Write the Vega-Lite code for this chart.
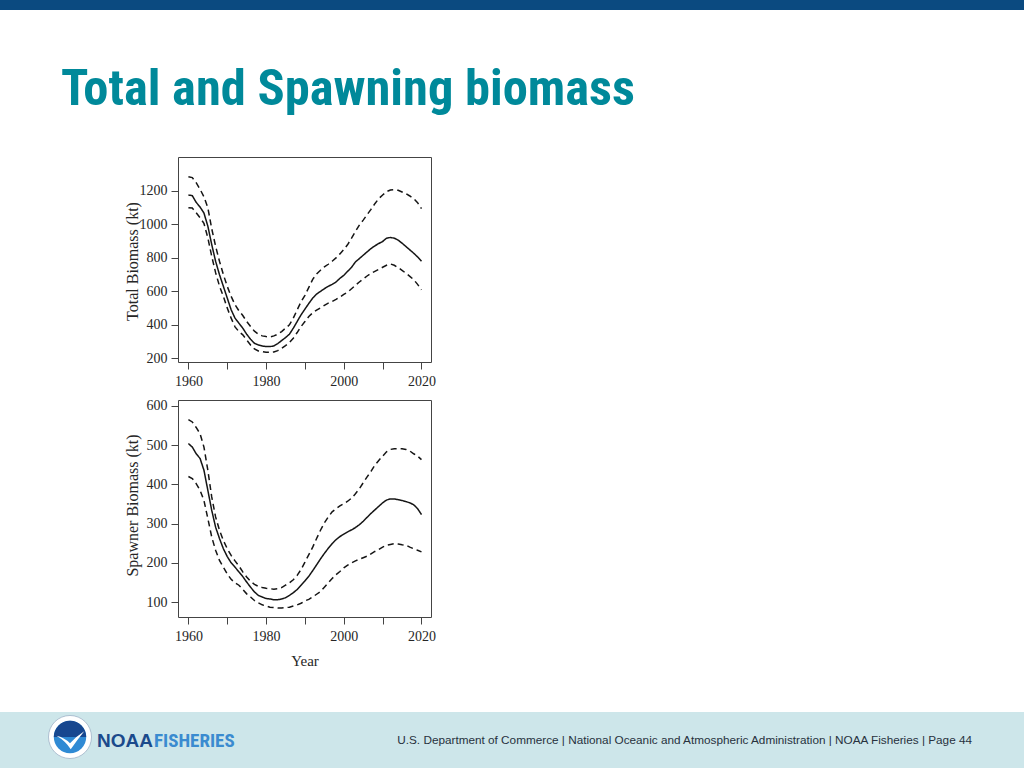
{
  "$schema": "https://vega.github.io/schema/vega-lite/v6.json",
  "padding": 0,
  "background": "white",
  "columns": 5,
  "align": "each",
  "bounds": "flush",
  "spacing": 0,
  "config": {
    "view": {"stroke": null},
    "axis": {"domain": false, "grid": false, "tickColor": "#444", "tickSize": 7, "labelFont": "Liberation Serif", "labelFontSize": 14, "labelColor": "#262626", "titleFont": "Liberation Serif", "titleFontSize": 16, "titleFontWeight": "normal", "titleColor": "#262626"}
  },
  "datasets": {
    "total": [
      {"year":1960,"series":"est","value":1176},{"year":1961,"series":"est","value":1172},{"year":1962,"series":"est","value":1132},{"year":1963,"series":"est","value":1104},{"year":1964,"series":"est","value":1068},{"year":1965,"series":"est","value":990},{"year":1966,"series":"est","value":880},{"year":1967,"series":"est","value":780},{"year":1968,"series":"est","value":700},{"year":1969,"series":"est","value":630},{"year":1970,"series":"est","value":560},{"year":1971,"series":"est","value":490},{"year":1972,"series":"est","value":440},{"year":1973,"series":"est","value":410},{"year":1974,"series":"est","value":380},{"year":1975,"series":"est","value":344},{"year":1976,"series":"est","value":314},{"year":1977,"series":"est","value":290},{"year":1978,"series":"est","value":280},{"year":1979,"series":"est","value":274},{"year":1980,"series":"est","value":270},{"year":1981,"series":"est","value":270},{"year":1982,"series":"est","value":274},{"year":1983,"series":"est","value":288},{"year":1984,"series":"est","value":306},{"year":1985,"series":"est","value":324},{"year":1986,"series":"est","value":344},{"year":1987,"series":"est","value":380},{"year":1988,"series":"est","value":420},{"year":1989,"series":"est","value":460},{"year":1990,"series":"est","value":494},{"year":1991,"series":"est","value":528},{"year":1992,"series":"est","value":560},{"year":1993,"series":"est","value":584},{"year":1994,"series":"est","value":600},{"year":1995,"series":"est","value":616},{"year":1996,"series":"est","value":630},{"year":1997,"series":"est","value":642},{"year":1998,"series":"est","value":656},{"year":1999,"series":"est","value":678},{"year":2000,"series":"est","value":696},{"year":2001,"series":"est","value":720},{"year":2002,"series":"est","value":744},{"year":2003,"series":"est","value":776},{"year":2004,"series":"est","value":796},{"year":2005,"series":"est","value":816},{"year":2006,"series":"est","value":836},{"year":2007,"series":"est","value":856},{"year":2008,"series":"est","value":872},{"year":2009,"series":"est","value":886},{"year":2010,"series":"est","value":898},{"year":2011,"series":"est","value":918},{"year":2012,"series":"est","value":922},{"year":2013,"series":"est","value":918},{"year":2014,"series":"est","value":906},{"year":2015,"series":"est","value":888},{"year":2016,"series":"est","value":868},{"year":2017,"series":"est","value":848},{"year":2018,"series":"est","value":828},{"year":2019,"series":"est","value":806},{"year":2020,"series":"est","value":780},
      {"year":1960,"series":"hi","value":1285},{"year":1961,"series":"hi","value":1280},{"year":1962,"series":"hi","value":1250},{"year":1963,"series":"hi","value":1210},{"year":1964,"series":"hi","value":1165},{"year":1965,"series":"hi","value":1100},{"year":1966,"series":"hi","value":975},{"year":1967,"series":"hi","value":870},{"year":1968,"series":"hi","value":780},{"year":1969,"series":"hi","value":700},{"year":1970,"series":"hi","value":630},{"year":1971,"series":"hi","value":570},{"year":1972,"series":"hi","value":520},{"year":1973,"series":"hi","value":484},{"year":1974,"series":"hi","value":456},{"year":1975,"series":"hi","value":420},{"year":1976,"series":"hi","value":390},{"year":1977,"series":"hi","value":362},{"year":1978,"series":"hi","value":344},{"year":1979,"series":"hi","value":334},{"year":1980,"series":"hi","value":330},{"year":1981,"series":"hi","value":328},{"year":1982,"series":"hi","value":334},{"year":1983,"series":"hi","value":344},{"year":1984,"series":"hi","value":360},{"year":1985,"series":"hi","value":380},{"year":1986,"series":"hi","value":400},{"year":1987,"series":"hi","value":440},{"year":1988,"series":"hi","value":490},{"year":1989,"series":"hi","value":538},{"year":1990,"series":"hi","value":576},{"year":1991,"series":"hi","value":624},{"year":1992,"series":"hi","value":672},{"year":1993,"series":"hi","value":704},{"year":1994,"series":"hi","value":726},{"year":1995,"series":"hi","value":746},{"year":1996,"series":"hi","value":762},{"year":1997,"series":"hi","value":780},{"year":1998,"series":"hi","value":800},{"year":1999,"series":"hi","value":824},{"year":2000,"series":"hi","value":850},{"year":2001,"series":"hi","value":880},{"year":2002,"series":"hi","value":918},{"year":2003,"series":"hi","value":958},{"year":2004,"series":"hi","value":996},{"year":2005,"series":"hi","value":1026},{"year":2006,"series":"hi","value":1058},{"year":2007,"series":"hi","value":1090},{"year":2008,"series":"hi","value":1124},{"year":2009,"series":"hi","value":1154},{"year":2010,"series":"hi","value":1176},{"year":2011,"series":"hi","value":1196},{"year":2012,"series":"hi","value":1206},{"year":2013,"series":"hi","value":1208},{"year":2014,"series":"hi","value":1204},{"year":2015,"series":"hi","value":1194},{"year":2016,"series":"hi","value":1184},{"year":2017,"series":"hi","value":1170},{"year":2018,"series":"hi","value":1154},{"year":2019,"series":"hi","value":1130},{"year":2020,"series":"hi","value":1094},
      {"year":1960,"series":"lo","value":1100},{"year":1961,"series":"lo","value":1098},{"year":1962,"series":"lo","value":1070},{"year":1963,"series":"lo","value":1040},{"year":1964,"series":"lo","value":1006},{"year":1965,"series":"lo","value":920},{"year":1966,"series":"lo","value":810},{"year":1967,"series":"lo","value":712},{"year":1968,"series":"lo","value":632},{"year":1969,"series":"lo","value":570},{"year":1970,"series":"lo","value":500},{"year":1971,"series":"lo","value":440},{"year":1972,"series":"lo","value":388},{"year":1973,"series":"lo","value":360},{"year":1974,"series":"lo","value":340},{"year":1975,"series":"lo","value":310},{"year":1976,"series":"lo","value":280},{"year":1977,"series":"lo","value":256},{"year":1978,"series":"lo","value":244},{"year":1979,"series":"lo","value":240},{"year":1980,"series":"lo","value":236},{"year":1981,"series":"lo","value":236},{"year":1982,"series":"lo","value":238},{"year":1983,"series":"lo","value":246},{"year":1984,"series":"lo","value":260},{"year":1985,"series":"lo","value":276},{"year":1986,"series":"lo","value":294},{"year":1987,"series":"lo","value":320},{"year":1988,"series":"lo","value":354},{"year":1989,"series":"lo","value":390},{"year":1990,"series":"lo","value":420},{"year":1991,"series":"lo","value":450},{"year":1992,"series":"lo","value":472},{"year":1993,"series":"lo","value":488},{"year":1994,"series":"lo","value":502},{"year":1995,"series":"lo","value":516},{"year":1996,"series":"lo","value":530},{"year":1997,"series":"lo","value":540},{"year":1998,"series":"lo","value":552},{"year":1999,"series":"lo","value":566},{"year":2000,"series":"lo","value":582},{"year":2001,"series":"lo","value":596},{"year":2002,"series":"lo","value":616},{"year":2003,"series":"lo","value":636},{"year":2004,"series":"lo","value":656},{"year":2005,"series":"lo","value":674},{"year":2006,"series":"lo","value":692},{"year":2007,"series":"lo","value":708},{"year":2008,"series":"lo","value":720},{"year":2009,"series":"lo","value":732},{"year":2010,"series":"lo","value":744},{"year":2011,"series":"lo","value":756},{"year":2012,"series":"lo","value":764},{"year":2013,"series":"lo","value":756},{"year":2014,"series":"lo","value":742},{"year":2015,"series":"lo","value":726},{"year":2016,"series":"lo","value":708},{"year":2017,"series":"lo","value":690},{"year":2018,"series":"lo","value":670},{"year":2019,"series":"lo","value":642},{"year":2020,"series":"lo","value":610}
    ],
    "spawner": [
      {"year":1960,"series":"est","value":504},{"year":1961,"series":"est","value":495},{"year":1962,"series":"est","value":478},{"year":1963,"series":"est","value":466},{"year":1964,"series":"est","value":436},{"year":1965,"series":"est","value":385},{"year":1966,"series":"est","value":334},{"year":1967,"series":"est","value":291},{"year":1968,"series":"est","value":262},{"year":1969,"series":"est","value":236},{"year":1970,"series":"est","value":216},{"year":1971,"series":"est","value":200},{"year":1972,"series":"est","value":189},{"year":1973,"series":"est","value":177},{"year":1974,"series":"est","value":165},{"year":1975,"series":"est","value":151},{"year":1976,"series":"est","value":138},{"year":1977,"series":"est","value":126},{"year":1978,"series":"est","value":117},{"year":1979,"series":"est","value":113},{"year":1980,"series":"est","value":109},{"year":1981,"series":"est","value":108},{"year":1982,"series":"est","value":106},{"year":1983,"series":"est","value":106},{"year":1984,"series":"est","value":108},{"year":1985,"series":"est","value":111},{"year":1986,"series":"est","value":117},{"year":1987,"series":"est","value":124},{"year":1988,"series":"est","value":132},{"year":1989,"series":"est","value":143},{"year":1990,"series":"est","value":154},{"year":1991,"series":"est","value":166},{"year":1992,"series":"est","value":180},{"year":1993,"series":"est","value":195},{"year":1994,"series":"est","value":210},{"year":1995,"series":"est","value":224},{"year":1996,"series":"est","value":237},{"year":1997,"series":"est","value":249},{"year":1998,"series":"est","value":259},{"year":1999,"series":"est","value":267},{"year":2000,"series":"est","value":273},{"year":2001,"series":"est","value":279},{"year":2002,"series":"est","value":284},{"year":2003,"series":"est","value":290},{"year":2004,"series":"est","value":297},{"year":2005,"series":"est","value":306},{"year":2006,"series":"est","value":316},{"year":2007,"series":"est","value":326},{"year":2008,"series":"est","value":335},{"year":2009,"series":"est","value":344},{"year":2010,"series":"est","value":353},{"year":2011,"series":"est","value":360},{"year":2012,"series":"est","value":363},{"year":2013,"series":"est","value":363},{"year":2014,"series":"est","value":361},{"year":2015,"series":"est","value":359},{"year":2016,"series":"est","value":356},{"year":2017,"series":"est","value":353},{"year":2018,"series":"est","value":348},{"year":2019,"series":"est","value":338},{"year":2020,"series":"est","value":323},
      {"year":1960,"series":"hi","value":565},{"year":1961,"series":"hi","value":559},{"year":1962,"series":"hi","value":545},{"year":1963,"series":"hi","value":529},{"year":1964,"series":"hi","value":495},{"year":1965,"series":"hi","value":436},{"year":1966,"series":"hi","value":368},{"year":1967,"series":"hi","value":317},{"year":1968,"series":"hi","value":283},{"year":1969,"series":"hi","value":257},{"year":1970,"series":"hi","value":236},{"year":1971,"series":"hi","value":219},{"year":1972,"series":"hi","value":205},{"year":1973,"series":"hi","value":192},{"year":1974,"series":"hi","value":177},{"year":1975,"series":"hi","value":164},{"year":1976,"series":"hi","value":153},{"year":1977,"series":"hi","value":145},{"year":1978,"series":"hi","value":140},{"year":1979,"series":"hi","value":137},{"year":1980,"series":"hi","value":135},{"year":1981,"series":"hi","value":134},{"year":1982,"series":"hi","value":133},{"year":1983,"series":"hi","value":134},{"year":1984,"series":"hi","value":137},{"year":1985,"series":"hi","value":143},{"year":1986,"series":"hi","value":149},{"year":1987,"series":"hi","value":157},{"year":1988,"series":"hi","value":168},{"year":1989,"series":"hi","value":183},{"year":1990,"series":"hi","value":202},{"year":1991,"series":"hi","value":221},{"year":1992,"series":"hi","value":240},{"year":1993,"series":"hi","value":262},{"year":1994,"series":"hi","value":283},{"year":1995,"series":"hi","value":302},{"year":1996,"series":"hi","value":317},{"year":1997,"series":"hi","value":330},{"year":1998,"series":"hi","value":338},{"year":1999,"series":"hi","value":345},{"year":2000,"series":"hi","value":351},{"year":2001,"series":"hi","value":357},{"year":2002,"series":"hi","value":365},{"year":2003,"series":"hi","value":376},{"year":2004,"series":"hi","value":389},{"year":2005,"series":"hi","value":404},{"year":2006,"series":"hi","value":419},{"year":2007,"series":"hi","value":433},{"year":2008,"series":"hi","value":449},{"year":2009,"series":"hi","value":461},{"year":2010,"series":"hi","value":472},{"year":2011,"series":"hi","value":483},{"year":2012,"series":"hi","value":489},{"year":2013,"series":"hi","value":491},{"year":2014,"series":"hi","value":491},{"year":2015,"series":"hi","value":491},{"year":2016,"series":"hi","value":489},{"year":2017,"series":"hi","value":485},{"year":2018,"series":"hi","value":478},{"year":2019,"series":"hi","value":472},{"year":2020,"series":"hi","value":463},
      {"year":1960,"series":"lo","value":420},{"year":1961,"series":"lo","value":415},{"year":1962,"series":"lo","value":402},{"year":1963,"series":"lo","value":385},{"year":1964,"series":"lo","value":359},{"year":1965,"series":"lo","value":313},{"year":1966,"series":"lo","value":266},{"year":1967,"series":"lo","value":232},{"year":1968,"series":"lo","value":206},{"year":1969,"series":"lo","value":189},{"year":1970,"series":"lo","value":172},{"year":1971,"series":"lo","value":158},{"year":1972,"series":"lo","value":149},{"year":1973,"series":"lo","value":143},{"year":1974,"series":"lo","value":132},{"year":1975,"series":"lo","value":121},{"year":1976,"series":"lo","value":113},{"year":1977,"series":"lo","value":104},{"year":1978,"series":"lo","value":98},{"year":1979,"series":"lo","value":93},{"year":1980,"series":"lo","value":90},{"year":1981,"series":"lo","value":87},{"year":1982,"series":"lo","value":86},{"year":1983,"series":"lo","value":85},{"year":1984,"series":"lo","value":85},{"year":1985,"series":"lo","value":86},{"year":1986,"series":"lo","value":87},{"year":1987,"series":"lo","value":90},{"year":1988,"series":"lo","value":93},{"year":1989,"series":"lo","value":97},{"year":1990,"series":"lo","value":103},{"year":1991,"series":"lo","value":107},{"year":1992,"series":"lo","value":113},{"year":1993,"series":"lo","value":120},{"year":1994,"series":"lo","value":127},{"year":1995,"series":"lo","value":138},{"year":1996,"series":"lo","value":149},{"year":1997,"series":"lo","value":160},{"year":1998,"series":"lo","value":170},{"year":1999,"series":"lo","value":178},{"year":2000,"series":"lo","value":187},{"year":2001,"series":"lo","value":194},{"year":2002,"series":"lo","value":200},{"year":2003,"series":"lo","value":205},{"year":2004,"series":"lo","value":209},{"year":2005,"series":"lo","value":213},{"year":2006,"series":"lo","value":217},{"year":2007,"series":"lo","value":223},{"year":2008,"series":"lo","value":229},{"year":2009,"series":"lo","value":234},{"year":2010,"series":"lo","value":240},{"year":2011,"series":"lo","value":245},{"year":2012,"series":"lo","value":247},{"year":2013,"series":"lo","value":249},{"year":2014,"series":"lo","value":248},{"year":2015,"series":"lo","value":246},{"year":2016,"series":"lo","value":245},{"year":2017,"series":"lo","value":240},{"year":2018,"series":"lo","value":236},{"year":2019,"series":"lo","value":232},{"year":2020,"series":"lo","value":228}
    ]
  },
  "concat": [
    {"width": 96, "height": 10, "view": {"fill": "#0b4a80", "stroke": null}, "data": {"values": []}, "mark": "point"},
    {"width": 58, "height": 10, "view": {"fill": "#0b4a80", "stroke": null}, "data": {"values": []}, "mark": "point"},
    {"width": 24, "height": 10, "view": {"fill": "#0b4a80", "stroke": null}, "data": {"values": []}, "mark": "point"},
    {"width": 253, "height": 10, "view": {"fill": "#0b4a80", "stroke": null}, "data": {"values": []}, "mark": "point"},
    {"width": 593, "height": 10, "view": {"fill": "#0b4a80", "stroke": null}, "data": {"values": []}, "mark": "point"},

    {"width": 96, "height": 147, "data": {"values": []}, "mark": "point",
     "title": {"text": "Total and Spawning biomass", "orient": "top", "anchor": "start", "offset": -145.2, "baseline": "alphabetic", "dx": 61, "font": "Liberation Sans Narrow, Noto Sans Condensed, Roboto Condensed, Open Sans Condensed, DejaVu Sans Condensed, sans-serif", "fontSize": 50.5, "fontWeight": "bold", "color": "#00899a"}},
    {"width": 58, "height": 147, "data": {"values": []}, "mark": "point"},
    {"width": 24, "height": 147, "data": {"values": []}, "mark": "point"},
    {"width": 253, "height": 147, "data": {"values": []}, "mark": "point"},
    {"width": 593, "height": 147, "data": {"values": []}, "mark": "point"},

    {"width": 96, "height": 205, "data": {"values": []}, "mark": "point"},
    {"width": 58, "height": 205, "data": {"values": []}, "mark": "point"},
    {"width": 24, "height": 205, "data": {"values": []}, "mark": "point"},
    {"width": 253, "height": 205, "view": {"stroke": "#444", "strokeWidth": 1},
     "data": {"name": "total"},
     "mark": {"type": "line", "color": "#151515", "strokeWidth": 1.5},
     "encoding": {
       "x": {"field": "year", "type": "quantitative", "scale": {"domain": [1957.32, 2022.45], "nice": false, "zero": false},
             "axis": {"values": [1960,1970,1980,1990,2000,2010,2020], "format": "d", "labelExpr": "datum.value % 20 === 0 ? datum.label : ''", "title": null, "labelPadding": 5, "labelFlush": false, "labelOverlap": false}},
       "y": {"field": "value", "type": "quantitative", "scale": {"domain": [178, 1403], "nice": false, "zero": false},
             "axis": {"values": [200,400,600,800,1000,1200], "format": "d", "labelPadding": 4, "title": "Total Biomass (kt)", "titleX": -41, "titleY": 104, "titleBaseline": "alphabetic", "titleAngle": 270, "titleAlign": "center"}},
       "strokeDash": {"field": "series", "type": "nominal", "scale": {"domain": ["est","lo","hi"], "range": [[1,0],[6,4],[6,4]]}, "legend": null}
     }},
    {"width": 593, "height": 205, "data": {"values": []}, "mark": "point"},

    {"width": 96, "height": 38, "data": {"values": []}, "mark": "point"},
    {"width": 58, "height": 38, "data": {"values": []}, "mark": "point"},
    {"width": 24, "height": 38, "data": {"values": []}, "mark": "point"},
    {"width": 253, "height": 38, "data": {"values": []}, "mark": "point"},
    {"width": 593, "height": 38, "data": {"values": []}, "mark": "point"},

    {"width": 96, "height": 217, "data": {"values": []}, "mark": "point"},
    {"width": 58, "height": 217, "data": {"values": []}, "mark": "point"},
    {"width": 24, "height": 217, "data": {"values": []}, "mark": "point"},
    {"width": 253, "height": 217, "view": {"stroke": "#444", "strokeWidth": 1},
     "data": {"name": "spawner"},
     "mark": {"type": "line", "color": "#151515", "strokeWidth": 1.5},
     "encoding": {
       "x": {"field": "year", "type": "quantitative", "scale": {"domain": [1957.32, 2022.45], "nice": false, "zero": false},
             "axis": {"values": [1960,1970,1980,1990,2000,2010,2020], "format": "d", "labelExpr": "datum.value % 20 === 0 ? datum.label : ''", "title": "Year", "titleFontSize": 15, "titleY": 48, "titleBaseline": "alphabetic", "labelPadding": 5, "labelFlush": false, "labelOverlap": false}},
       "y": {"field": "value", "type": "quantitative", "scale": {"domain": [62, 615], "nice": false, "zero": false},
             "axis": {"values": [100,200,300,400,500,600], "format": "d", "labelPadding": 4, "title": "Spawner Biomass (kt)", "titleX": -41, "titleY": 105, "titleBaseline": "alphabetic", "titleAngle": 270, "titleAlign": "center"}},
       "strokeDash": {"field": "series", "type": "nominal", "scale": {"domain": ["est","lo","hi"], "range": [[1,0],[6,4],[6,4]]}, "legend": null}
     }},
    {"width": 593, "height": 217, "data": {"values": []}, "mark": "point"},

    {"width": 96, "height": 95, "data": {"values": []}, "mark": "point"},
    {"width": 58, "height": 95, "data": {"values": []}, "mark": "point"},
    {"width": 24, "height": 95, "data": {"values": []}, "mark": "point"},
    {"width": 253, "height": 95, "data": {"values": []}, "mark": "point"},
    {"width": 593, "height": 95, "data": {"values": []}, "mark": "point"},

    {"width": 96, "height": 56, "view": {"fill": "#cde6ea", "stroke": null},
     "data": {"values": [{}]},
     "layer": [
       {"mark": {"type": "point", "filled": true, "size": 1850, "color": "white", "stroke": "#9fb3c8", "strokeWidth": 0.8, "opacity": 1, "xOffset": 22, "yOffset": -3}},
       {"mark": {"type": "point", "filled": true, "size": 1050, "color": "#2f8ad4", "opacity": 1, "xOffset": 22, "yOffset": -3}},
       {"mark": {"type": "point", "shape": "M-1,0 A1,1 0 0 1 1,0 Z", "filled": true, "size": 1050, "color": "#17478f", "opacity": 1, "xOffset": 22, "yOffset": -3}},
       {"mark": {"type": "point", "shape": "M-0.9,-0.15 Q-0.4,-0.05 0,0.35 Q0.4,-0.1 0.95,-0.45 Q0.5,0.1 0.05,0.75 Q-0.3,0.2 -0.9,-0.15 Z", "filled": true, "size": 900, "color": "white", "opacity": 1, "xOffset": 22, "yOffset": -2}}
     ]},
    {"width": 58, "height": 56, "view": {"fill": "#cde6ea", "stroke": null}, "data": {"values": []}, "mark": "point",
     "title": {"text": "NOAA", "orient": "top", "anchor": "start", "offset": -53.5, "baseline": "alphabetic", "dx": 1, "font": "Liberation Sans", "fontSize": 19, "fontWeight": "bold", "color": "#1b4a8c"}},
    {"width": 24, "height": 56, "view": {"fill": "#cde6ea", "stroke": null}, "data": {"values": []}, "mark": "point"},
    {"width": 253, "height": 56, "view": {"fill": "#cde6ea", "stroke": null}, "data": {"values": []}, "mark": "point",
     "title": {"text": "FISHERIES", "orient": "top", "anchor": "start", "offset": -53.5, "baseline": "alphabetic", "dx": -24, "font": "Liberation Sans Narrow, Noto Sans Condensed, Roboto Condensed, DejaVu Sans Condensed, sans-serif", "fontSize": 19, "fontWeight": "bold", "color": "#3a8bd0"}},
    {"width": 593, "height": 56, "view": {"fill": "#cde6ea", "stroke": null}, "data": {"values": []}, "mark": "point",
     "title": {"text": "U.S. Department of Commerce | National Oceanic and Atmospheric Administration | NOAA Fisheries | Page 44", "orient": "top", "anchor": "end", "offset": -43.8, "baseline": "alphabetic", "dx": -52, "font": "Liberation Sans", "fontSize": 11.75, "fontWeight": "normal", "color": "#27313d"}}
  ]
}
